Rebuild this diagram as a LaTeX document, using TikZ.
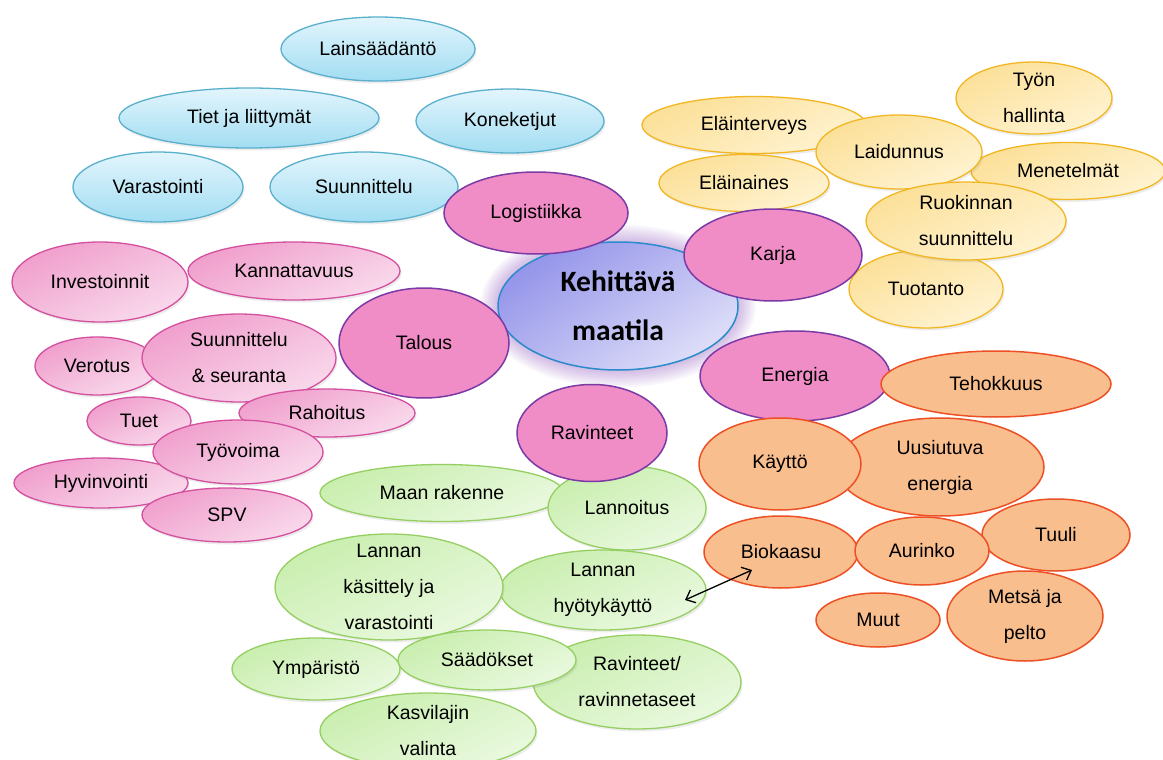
\documentclass[tikz,border=0pt]{standalone}
\usepackage{fontspec}
\setmainfont{Liberation Sans}
\newfontfamily\carlitofont{Carlito}
\usetikzlibrary{shapes.geometric, shadows, arrows.meta, calc}

\definecolor{bluT}{HTML}{E2F5FC}
\definecolor{bluB}{HTML}{A2DDF2}
\definecolor{bluL}{HTML}{5AB0CC}
\definecolor{pnkT}{HTML}{F09ECC}
\definecolor{pnkB}{HTML}{F9DAEC}
\definecolor{pnkL}{HTML}{D4509E}
\definecolor{mpk}{HTML}{F08CC6}
\definecolor{mpkL}{HTML}{7B3AA5}
\definecolor{yelT}{HTML}{FCE098}
\definecolor{yelB}{HTML}{FFF3D2}
\definecolor{yelL}{HTML}{F2B622}
\definecolor{grnT}{HTML}{C9EEAE}
\definecolor{grnB}{HTML}{EAF9E0}
\definecolor{grnL}{HTML}{95CF62}
\definecolor{org}{HTML}{F9BE8E}
\definecolor{orgL}{HTML}{EE5026}
\definecolor{cenT}{HTML}{9494EA}
\definecolor{cenB}{HTML}{DEDEF9}
\definecolor{cenL}{HTML}{2A8BCB}
\definecolor{glowc}{HTML}{8A4FC0}

\tikzset{
  bub/.style={ellipse, inner sep=0pt, line width=1.3pt},
  shd/.style={drop shadow={opacity=0.15, shadow xshift=1.5pt, shadow yshift=-2.5pt}},
  blueb/.style={bub, shd, draw=bluL, top color=bluT, bottom color=bluB},
  pinkb/.style={bub, shd, draw=pnkL, top color=pnkT, bottom color=pnkB, shading angle=25},
  yelb/.style={bub, shd, draw=yelL, top color=yelT, bottom color=yelB, shading angle=25},
  grnb/.style={bub, shd, draw=grnL, top color=grnT, bottom color=grnB, shading angle=25},
  mainb/.style={bub, draw=mpkL, fill=mpk, line width=1.5pt},
  orgb/.style={bub, draw=orgL, fill=org, line width=1.5pt},
  lbl/.style={align=center, font=\fontsize{19.5}{36}\selectfont, inner sep=0pt},
  arr/.style={line width=1.3pt, {Straight Barb[length=8pt,width=14pt]}-{Straight Barb[length=8pt,width=14pt]}}
}

\newcommand\bubb[7]{%
  \node[#1, minimum width=#5pt, minimum height=#6pt] (#2) at (#3,#4) {};
  \node[lbl] (#2t) at (#2.center) {#7};
}

\begin{document}
\begin{tikzpicture}[x=1pt,y=-1pt]
\useasboundingbox (0,0) rectangle (1163,760);
\fill[white] (0,0) rectangle (1163,760);
\clip (0,0) rectangle (1163,760);

% blue group
\bubb{blueb}{lain}{378}{49}{194}{64}{Lainsäädäntö}
\bubb{blueb}{tiet}{249}{118}{260}{60}{Tiet ja liittymät}
\bubb{blueb}{kone}{510}{121}{188}{64}{Koneketjut}
\bubb{blueb}{vara}{158}{187}{170}{70}{Varastointi}
\bubb{blueb}{suun}{364}{187}{188}{70}{Suunnittelu}

% yellow group
\bubb{yelb}{elte}{754}{125}{224}{57}{Eläinterveys}
\bubb{yelb}{elai}{744}{183}{170}{57}{Eläinaines}
\bubb{yelb}{mene}{1068}{171}{194}{57}{Menetelmät}
\bubb{yelb}{laid}{899}{152}{166}{74}{Laidunnus}
\bubb{yelb}{tyon}{1034}{98}{156}{72}{Työn\\hallinta}
\bubb{yelb}{tuot}{926}{289}{154}{78}{Tuotanto}
\bubb{yelb}{ruok}{966}{221}{200}{78}{Ruokinnan\\suunnittelu}

% pink group
\bubb{pinkb}{inve}{100}{282}{176}{80}{Investoinnit}
\bubb{pinkb}{kann}{294}{271}{212}{58}{Kannattavuus}
\bubb{pinkb}{vero}{97}{366}{124}{58}{Verotus}
\bubb{pinkb}{suse}{239}{358}{194}{88}{Suunnittelu\\\& seuranta}
\bubb{pinkb}{tuet}{139}{421}{104}{48}{Tuet}
\bubb{pinkb}{raho}{327}{413}{176}{48}{Rahoitus}
\bubb{pinkb}{hyvi}{101}{483}{174}{50}{Hyvinvointi}
\bubb{pinkb}{tyov}{238}{452}{170}{64}{Työvoima}
\bubb{pinkb}{spv}{227}{515}{170}{54}{SPV}

% green group
\bubb{grnb}{maan}{442}{493}{244}{57}{Maan rakenne}
\bubb{grnb}{lann}{627}{508}{158}{84}{Lannoitus}
\bubb{grnb}{hyot}{603}{590}{206}{80}{Lannan\\hyötykäyttö}
\bubb{grnb}{kasi}{389}{587}{228}{106}{Lannan\\käsittely ja\\varastointi}
\bubb{grnb}{ymp}{316}{669}{168}{62}{Ympäristö}
\bubb{grnb}{rava}{637}{682}{208}{94}{Ravinteet/\\ravinnetaseet}
\bubb{grnb}{saad}{487}{660}{178}{60}{Säädökset}
\bubb{grnb}{kasv}{428}{731}{216}{76}{Kasvilajin\\valinta}

% centre glow and centre node
\foreach \i in {1,...,8}
  \fill[glowc, opacity=0.05] (618,306) ellipse [x radius={120+\i*2.2}, y radius={64+\i*2.2}];
\node[bub, draw=cenL, line width=1.5pt, top color=cenT, bottom color=cenB, shading angle=35,
      minimum width=240pt, minimum height=128pt] (cen) at (618,306) {};
\node[align=center, inner sep=0pt, font=\carlitofont\bfseries\fontsize{29.5}{49}\selectfont] (cent) at (cen.center) {Kehittävä\\maatila};

% main pink
\bubb{mainb}{logi}{536}{213}{184}{82}{Logistiikka}
\bubb{mainb}{karj}{773}{255}{178}{92}{Karja}
\bubb{mainb}{talo}{424}{343}{170}{110}{Talous}
\bubb{mainb}{ener}{795}{376}{190}{90}{Energia}
\bubb{mainb}{ravi}{592}{433}{150}{97}{Ravinteet}

% orange group
\bubb{orgb}{teho}{996}{384}{230}{66}{Tehokkuus}
\bubb{orgb}{uusi}{940}{467}{208}{98}{Uusiutuva\\energia}
\bubb{orgb}{kayt}{780}{464}{162}{92}{Käyttö}
\bubb{orgb}{biok}{781}{552}{154}{72}{Biokaasu}
\bubb{orgb}{tuul}{1056}{535}{148}{72}{Tuuli}
\bubb{orgb}{auri}{922}{551}{134}{68}{Aurinko}
\bubb{orgb}{mets}{1025}{616}{156}{90}{Metsä ja\\pelto}
\bubb{orgb}{muut}{878}{620}{124}{54}{Muut}

% arrow
\coordinate (arrA) at ($(biok.center)+(-29,18)$);
\coordinate (arrB) at ($(hyot.center)+(82,10)$);
\draw[arr] (arrA) -- (arrB);
\end{tikzpicture}
\end{document}
